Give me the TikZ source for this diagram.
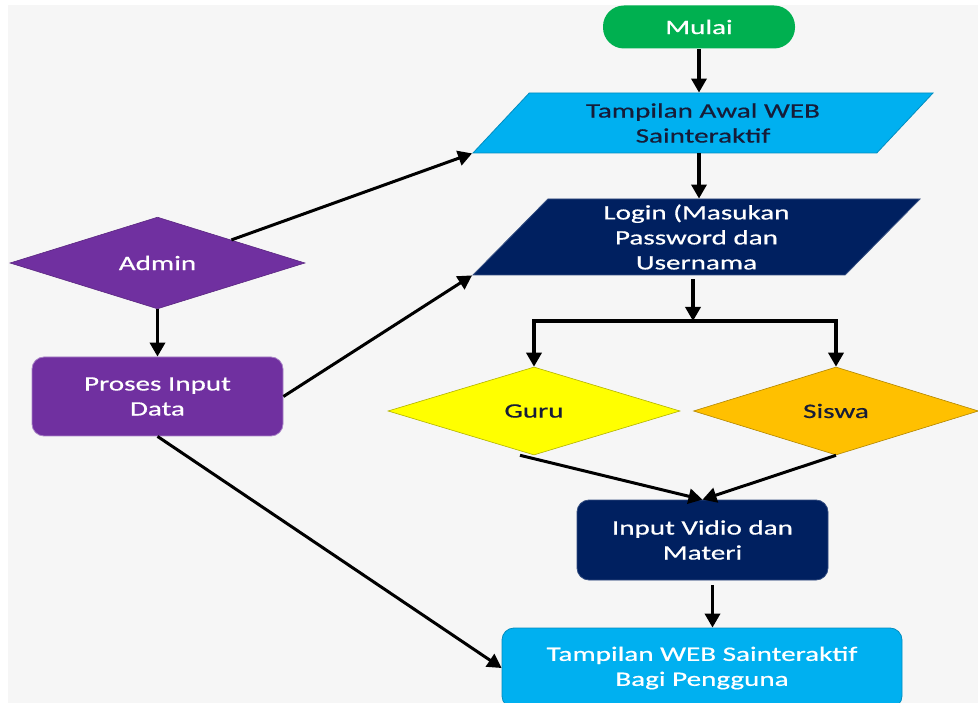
\documentclass[tikz,border=0pt]{standalone}
\usepackage{fontspec}
\setmainfont[FakeStretch=1.42,FakeBold=0.6]{Carlito}
\usetikzlibrary{arrows.meta,shapes.geometric,positioning}
\definecolor{ColorLatar}{HTML}{F6F6F6}
\definecolor{ColorHijau}{HTML}{00B050}
\definecolor{ColorBiru}{HTML}{00B0F0}
\definecolor{ColorNavy}{HTML}{002060}
\definecolor{ColorUngu}{HTML}{7030A0}
\definecolor{ColorKuning}{HTML}{FFFF00}
\definecolor{ColorOranye}{HTML}{FFC000}
\definecolor{ColorTeks}{HTML}{161C38}

\begin{document}
\begin{tikzpicture}[x=1pt,y=-1pt,
    font=\fontsize{20.5}{25}\selectfont,
    kotak/.style={rectangle,rounded corners=12pt,align=center,inner sep=0pt,text=white,line width=0.8pt},
    jajar/.style={trapezium,trapezium stretches body,align=center,inner sep=0pt,line width=0.8pt},
    belah/.style={diamond,inner sep=0pt,line width=0.6pt},
    panah/.style={line width=3.4pt,-{Triangle[length=14pt,width=15pt]}},
    garis/.style={line width=3.4pt}]
        \useasboundingbox (0,0) rectangle (978,703);
        %Latar
        \fill[ColorLatar] (8,5) rectangle (978,703);
        %Mulai
        \node[kotak,rounded corners=21pt,fill=ColorHijau,minimum width=192pt,minimum height=43pt] (mulai) at (699,27) {Mulai};
        %Tampilan awal
        \node[jajar,fill=ColorBiru,draw=ColorBiru!80!black,text=ColorTeks,trapezium left angle=35,trapezium right angle=145,
            minimum width=460pt,minimum height=60pt] (awal) at (703,123) {Tampilan Awal WEB\\Sainteraktif};
        %Login
        \node[jajar,fill=ColorNavy,draw=ColorNavy!80!white,text=white,trapezium left angle=41,trapezium right angle=139,
            minimum width=447pt,minimum height=76pt] (login) at (696.5,237) {Login (Masukan\\Password dan\\Usernama};
        %Guru dan Siswa
        \node[belah,fill=ColorKuning,draw=ColorKuning!70!black,text=ColorTeks,minimum width=292pt,minimum height=88pt] (guru) at (534,411) {Guru};
        \node[belah,fill=ColorOranye,draw=ColorOranye!70!black,text=ColorTeks,minimum width=285pt,minimum height=88pt] (siswa) at (836,411) {Siswa};
        %Input vidio
        \node[kotak,fill=ColorNavy,draw=ColorNavy!80!white,minimum width=251pt,minimum height=80pt] (vidio) at (702.5,540) {Input Vidio dan\\Materi};
        %Tampilan pengguna
        \node[kotak,fill=ColorBiru,draw=ColorBiru!80!black,minimum width=400pt,minimum height=80pt] (pengguna) at (702,668) {Tampilan WEB Sainteraktif\\Bagi Pengguna};
        %Admin
        \node[belah,fill=ColorUngu,draw=ColorUngu!80!black,text=white,minimum width=295pt,minimum height=88pt] (admin) at (157.5,263) {Admin};
        \node[kotak,fill=ColorUngu,draw=ColorUngu!60!white,minimum width=251pt,minimum height=79pt] (proses) at (157.5,396.5) {Proses Input\\Data};
        %Cabang
        \coordinate (cabang) at (693,321);
        %Panah
        \draw[panah] (mulai.south) -- (mulai.south |- awal.north);
        \draw[panah] (mulai.south |- awal.south) -- (mulai.south |- login.north);
        \draw[panah,shorten <=4pt] (login.south -| cabang) -- (cabang);
        \draw[garis] (guru.north |- cabang) -- (siswa.north |- cabang);
        \draw[panah] (cabang) -| (guru.north);
        \draw[panah] (cabang) -| (siswa.north);
        \draw[panah,line width=3pt] ([xshift=-14pt]guru.south) -- (vidio.north);
        \draw[panah,line width=3pt] (siswa.south) -- (vidio.north);
        \draw[panah,shorten <=5pt] ([xshift=10pt]vidio.south) -- ([xshift=10pt]vidio.south |- pengguna.north);
        \draw[panah] (admin.south) -- (proses.north);
        \draw[panah,line width=3pt] (admin.north east) -- (awal.bottom left corner);
        \draw[panah,line width=3pt] (proses.east) -- (login.bottom left corner);
        \draw[panah,line width=3pt] (proses.south) -- (pengguna.west);
\end{tikzpicture}
\end{document}
